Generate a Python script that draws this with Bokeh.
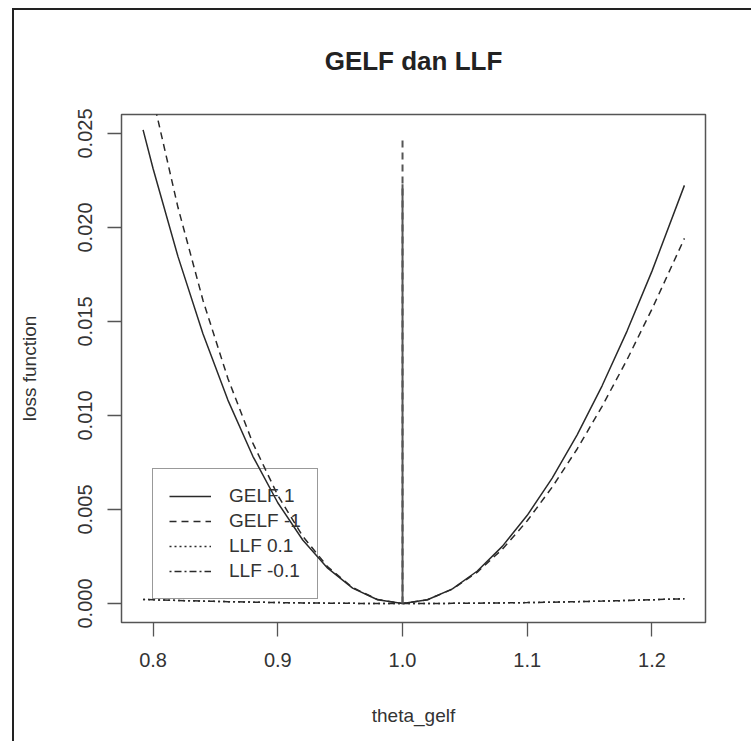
from bokeh.plotting import figure
from bokeh.models import Range1d, FixedTicker, Legend, LegendItem, NumeralTickFormatter, Title
from bokeh.embed import file_html
from bokeh.resources import INLINE

# ---- data ----
theta = [0.792, 0.80, 0.82, 0.84, 0.86, 0.88, 0.90, 0.92, 0.94, 0.96, 0.98, 1.00,
         1.02, 1.04, 1.06, 1.08, 1.10, 1.12, 1.14, 1.16, 1.18, 1.20, 1.226]
gelf_pos = [0.02519, 0.02314, 0.01845, 0.01435, 0.01082, 0.00783, 0.00536, 0.00338,
            0.00188, 0.00082, 0.00020, 0.0, 0.00020, 0.00078, 0.00173, 0.00304,
            0.00469, 0.00667, 0.00897, 0.01158, 0.01449, 0.01768, 0.02224]
gelf_neg = [0.02943, 0.02686, 0.02106, 0.01613, 0.01197, 0.00853, 0.00575, 0.00358,
            0.00195, 0.00085, 0.00021, 0.0, 0.00020, 0.00076, 0.00167, 0.00289,
            0.00440, 0.00619, 0.00822, 0.01049, 0.01297, 0.01566, 0.01942]
llf_pos = [0.000215, 0.000199, 0.000161, 0.000127, 0.000098, 0.000072, 0.000050, 0.000032,
           0.000018, 0.000008, 0.000002, 0.0, 0.000002, 0.000008, 0.000018, 0.000032,
           0.000050, 0.000072, 0.000098, 0.000129, 0.000163, 0.000201, 0.000257]
llf_neg = [0.000218, 0.000201, 0.000163, 0.000129, 0.000098, 0.000072, 0.000050, 0.000032,
           0.000018, 0.000008, 0.000002, 0.0, 0.000002, 0.000008, 0.000018, 0.000032,
           0.000050, 0.000072, 0.000098, 0.000127, 0.000161, 0.000199, 0.000253]
jump_x = [1.0, 1.0]
jump_pos = [0.0, 0.0223]
jump_neg = [0.0, 0.0247]

x_ticks = [0.8, 0.9, 1.0, 1.1, 1.2]
y_ticks = [0.000, 0.005, 0.010, 0.015, 0.020, 0.025]
labels = ["GELF 1", "GELF -1", "LLF 0.1", "LLF -0.1"]

FONT = "Liberation Sans"
INK = "#2a2a2a"
TXT = "#333333"

p = figure(width=739, height=733,
           x_range=Range1d(0.7747, 1.2429), y_range=Range1d(-0.00101, 0.02601),
           output_backend="svg", toolbar_location=None,
           min_border_left=107, min_border_right=48, min_border_top=104, min_border_bottom=121,
           x_axis_label="theta_gelf", y_axis_label="loss function")
p.styles = {"border-top": "2px solid #222", "border-left": "2px solid #222",
            "margin-left": "12px", "margin-top": "8px"}

p.title.text = "GELF dan LLF"
p.title.align = "center"
p.title.text_font = FONT
p.title.text_font_size = "26px"
p.title.text_font_style = "bold"
p.title.text_color = "#222222"

spacer = Title(text=" ", text_font_size="20px", align="center")
p.add_layout(spacer, "above")

p.xgrid.grid_line_color = None
p.ygrid.grid_line_color = None
p.outline_line_color = "#555555"
p.outline_line_width = 1.5

for ax in (p.xaxis[0], p.yaxis[0]):
    ax.axis_line_color = None
    ax.major_tick_line_color = "#555555"
    ax.major_tick_line_width = 1.3
    ax.major_tick_out = 14
    ax.major_tick_in = 0
    ax.minor_tick_line_color = None
    ax.major_label_text_font = FONT
    ax.major_label_text_font_size = "20px"
    ax.major_label_text_color = TXT
    ax.axis_label_text_font = FONT
    ax.axis_label_text_font_size = "19px"
    ax.axis_label_text_font_style = "normal"
    ax.axis_label_text_color = TXT

p.xaxis.ticker = FixedTicker(ticks=x_ticks)
p.xaxis.formatter = NumeralTickFormatter(format="0.0")
p.xaxis.major_label_standoff = 16
p.xaxis.axis_label_standoff = 35

p.yaxis.ticker = FixedTicker(ticks=y_ticks)
p.yaxis.formatter = NumeralTickFormatter(format="0.000")
p.yaxis.major_label_orientation = "vertical"
p.yaxis.major_label_standoff = 15
p.yaxis.axis_label_standoff = 36

r1 = p.line(theta, gelf_pos, line_color=INK, line_width=1.5)
r2 = p.line(theta, gelf_neg, line_color=INK, line_width=1.5, line_dash="7 5")
r3 = p.line(theta, llf_pos, line_color=INK, line_width=1.5, line_dash="2 3")
r4 = p.line(theta, llf_neg, line_color=INK, line_width=1.5, line_dash="2 3 7 3")
p.line(jump_x, jump_neg, line_color="#555555", line_width=2, line_dash="7 5")
p.line(jump_x, jump_pos, line_color="#555555", line_width=2)

legend = Legend(items=[LegendItem(label=l, renderers=[r]) for l, r in zip(labels, [r1, r2, r3, r4])],
                location=(31, 23))
legend.border_line_color = "#333333"
legend.border_line_width = 1.5
legend.background_fill_alpha = 0
legend.label_text_font = FONT
legend.label_text_font_size = "19px"
legend.label_text_color = TXT
legend.glyph_width = 42
legend.glyph_height = 22
legend.label_height = 22
legend.spacing = 3
legend.padding = 16
legend.label_standoff = 18
legend.margin = 0
p.add_layout(legend)

open("out.html", "w").write(file_html(p, INLINE))
